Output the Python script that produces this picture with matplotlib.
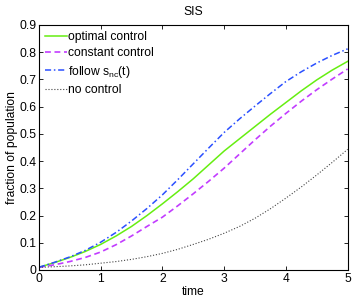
"""SIS model: infected fraction over time under different control strategies."""
import matplotlib
matplotlib.use("Agg")
import matplotlib.pyplot as plt

plt.rcParams["font.family"] = ["Liberation Sans", "DejaVu Sans"]
plt.rcParams["mathtext.fontset"] = "custom"
plt.rcParams["mathtext.rm"] = "Liberation Sans"
plt.rcParams["mathtext.it"] = "Liberation Sans"

time = [0, 0.25, 0.5, 0.75, 1, 1.25, 1.5, 1.75, 2, 2.25, 2.5,
        2.75, 3, 3.25, 3.5, 3.75, 4, 4.25, 4.5, 4.75, 5]
optimal = [0.010, 0.027, 0.046, 0.068, 0.094, 0.125, 0.160, 0.200, 0.243, 0.288, 0.335,
           0.386, 0.437, 0.482, 0.527, 0.572, 0.615, 0.658, 0.698, 0.734, 0.766]
constant = [0.010, 0.019, 0.031, 0.046, 0.066, 0.093, 0.125, 0.160, 0.194, 0.236, 0.280,
            0.326, 0.374, 0.426, 0.478, 0.528, 0.575, 0.620, 0.662, 0.701, 0.738]
follow = [0.010, 0.028, 0.048, 0.072, 0.102, 0.138, 0.180, 0.226, 0.276, 0.332, 0.390,
          0.448, 0.505, 0.555, 0.602, 0.648, 0.692, 0.728, 0.760, 0.788, 0.812]
no_ctrl = [0.010, 0.012, 0.015, 0.019, 0.025, 0.031, 0.039, 0.049, 0.061, 0.076, 0.094,
           0.113, 0.135, 0.160, 0.190, 0.225, 0.264, 0.305, 0.349, 0.395, 0.443]

xticks = [0, 1, 2, 3, 4, 5]
yticks = [0, 0.1, 0.2, 0.3, 0.4, 0.5, 0.6, 0.7, 0.8, 0.9]

fs = 8.7
fig = plt.figure(figsize=(3.54, 3.0), dpi=100)
ax = fig.add_axes([0.110, 0.100, 0.872, 0.817])

ax.plot(time, optimal, color="#66ee11", lw=1.1, label="optimal control")
ax.plot(time, constant, color="#c23cff", lw=1.2, dashes=(3.5, 2.2), label="constant control")
ax.plot(time, follow, color="#2b50ff", lw=1.1, dashes=(4.0, 1.8, 1.0, 1.8),
        label=r"follow s$_{\mathrm{nc}}$(t)")
ax.plot(time, no_ctrl, color="#444444", lw=0.8, ls=":", label="no control")

ax.set_xlim(0, 5)
ax.set_ylim(0, 0.9)
ax.set_xticks(xticks)
ax.set_xticklabels([str(v) for v in xticks])
ax.set_yticks(yticks)
ax.set_yticklabels(["0"] + [f"{v:.1f}" for v in yticks[1:]])
ax.tick_params(direction="in", length=3, width=0.6, top=True, right=True,
               labelsize=fs, pad=2)
for s in ax.spines.values():
    s.set_linewidth(0.8)

ax.set_title("SIS", fontsize=fs, pad=7)
ax.set_xlabel("time", fontsize=fs, labelpad=1)
ax.set_ylabel("fraction of population", fontsize=fs, labelpad=1)

ax.legend(loc="upper left", frameon=False, fontsize=fs, handlelength=1.8,
          handletextpad=0.1, borderaxespad=0.2, labelspacing=0.36,
          borderpad=0.3)

fig.savefig("out.png", dpi=100)
